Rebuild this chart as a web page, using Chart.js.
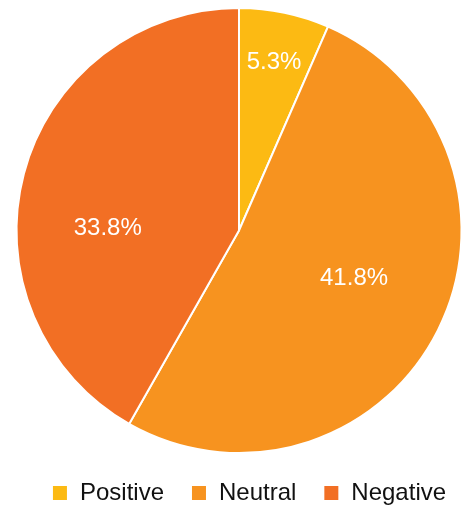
<!DOCTYPE html>
<html>
<head>
<meta charset="utf-8">
<script src="https://cdn.jsdelivr.net/npm/chart.js@4"></script>
<style>
  html, body { margin: 0; padding: 0; background: #fff; }
  #wrap { width: 470px; height: 509px; }
</style>
</head>
<body>
<div id="wrap"><canvas id="pie"></canvas></div>
<script>
var labels = ["Positive", "Neutral", "Negative"];
var shares = [5.3, 41.8, 33.8];
var colors = ['#FCBA13', '#F7931F', '#F26F24'];

// where each value label sits: fraction of the radius, and turn from the slice middle (deg)
var labelRadius = [0.77, 0.56, 0.59];
var labelTurn = [0, -4, -14];

var sliceLabels = {
    id: 'sliceLabels',
    afterDatasetsDraw: function(chart) {
        var ctx = chart.ctx;
        var meta = chart.getDatasetMeta(0);
        ctx.save();
        ctx.fillStyle = '#fff';
        ctx.font = '24px "Liberation Sans", Arial, sans-serif';
        ctx.textAlign = 'center';
        ctx.textBaseline = 'middle';
        meta.data.forEach(function(arc, i) {
            var p = arc.getProps(['x', 'y', 'startAngle', 'endAngle', 'outerRadius'], true);
            var a = (p.startAngle + p.endAngle) / 2 + labelTurn[i] * Math.PI / 180;
            var r = p.outerRadius * labelRadius[i];
            ctx.fillText(shares[i].toFixed(1) + '%', p.x + Math.cos(a) * r, p.y + Math.sin(a) * r);
        });
        ctx.restore();
    }
};

// nudge the legend row a bit to the right
var legendShift = {
    id: 'legendShift',
    afterUpdate: function(chart) {
        chart.legend.left += 10;
        chart.legend.right += 10;
    }
};

var ctx = document.getElementById('pie');
var myPie = new Chart(ctx, {
    type: 'pie',
    data: {
        labels: labels,
        datasets: [{
            data: shares,
            backgroundColor: colors,
            borderColor: '#fff',
            borderWidth: 2
        }]
    },
    options: {
        responsive: true,
        maintainAspectRatio: false,
        animation: false,
        // legend box runs a little past the bottom edge so its row sits low
        layout: { padding: { top: 7, left: 8, right: 0, bottom: -6 } },
        plugins: {
            legend: {
                position: 'bottom',
                labels: {
                    boxWidth: 16,
                    boxHeight: 16,
                    padding: 27,
                    color: '#111',
                    font: { size: 24, family: '"Liberation Sans", Arial, sans-serif' }
                }
            },
            tooltip: { enabled: false }
        }
    },
    plugins: [sliceLabels, legendShift]
});
</script>
</body>
</html>
